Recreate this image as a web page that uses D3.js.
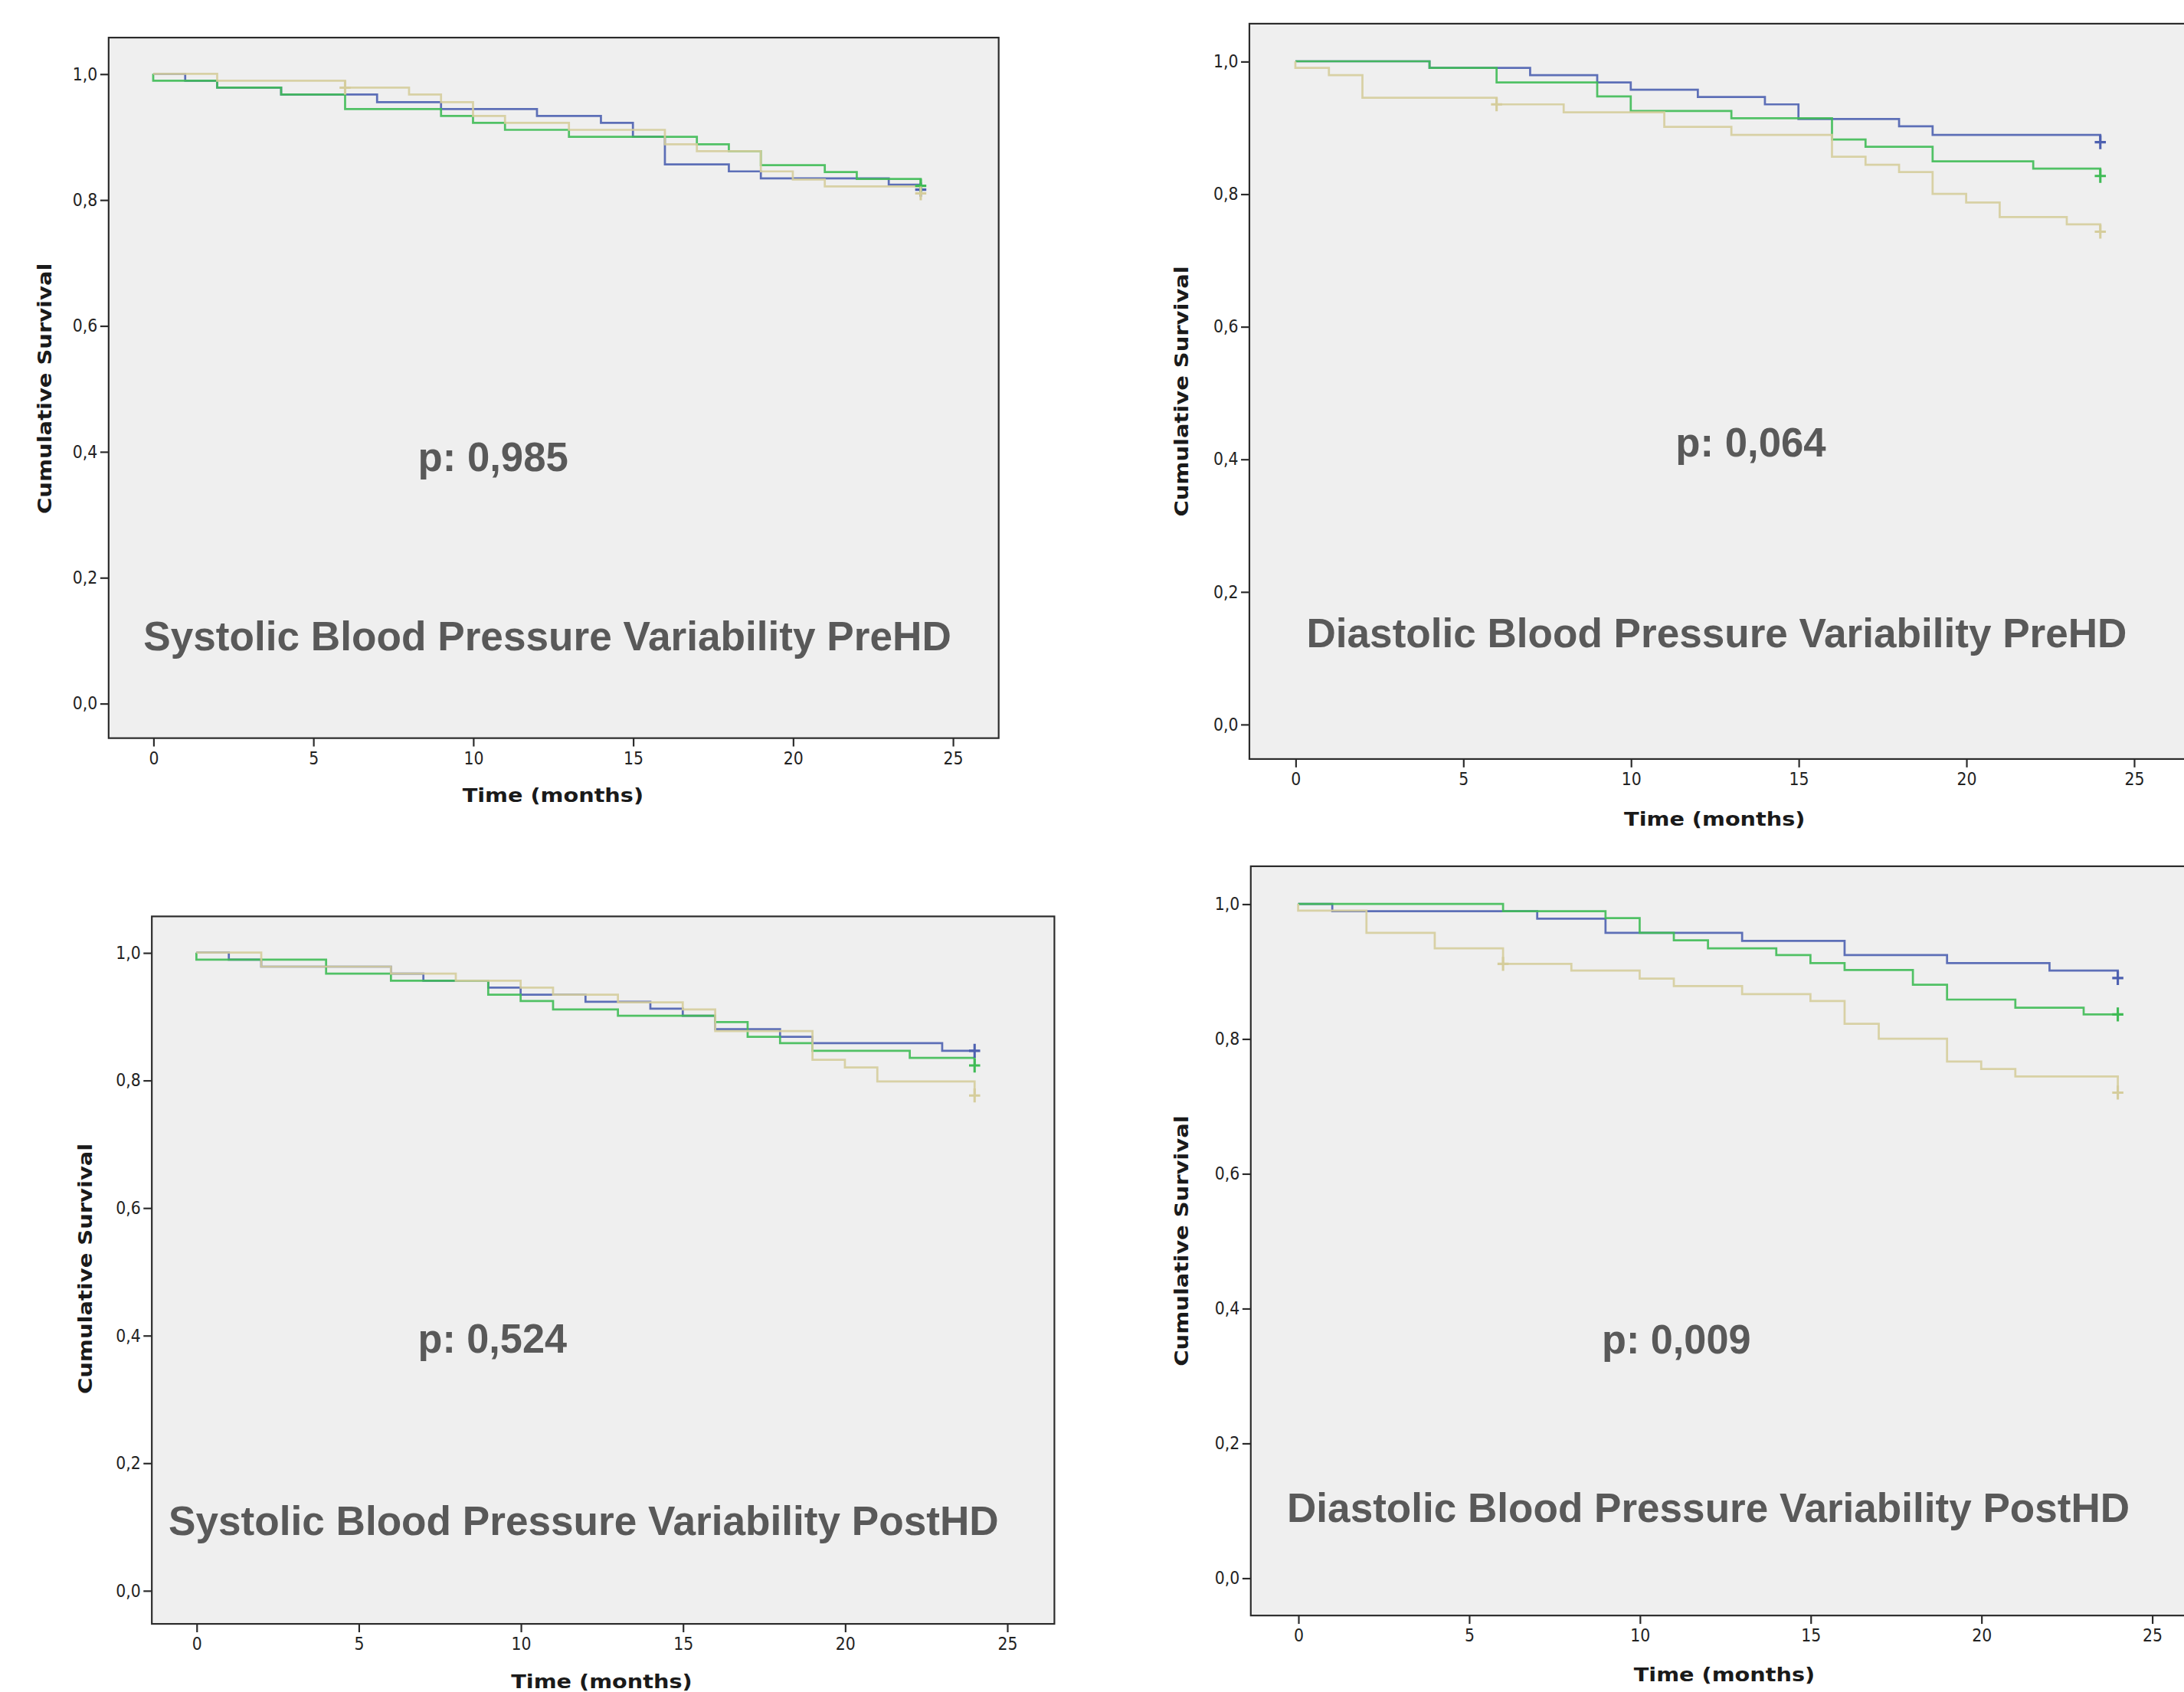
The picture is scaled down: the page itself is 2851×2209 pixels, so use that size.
<!DOCTYPE html>
<html>
<head>
<meta charset="utf-8">
<script src="https://cdn.jsdelivr.net/npm/d3@7"></script>
<style>
  html, body { margin: 0; padding: 0; background: #ffffff; }
  svg { display: block; }
</style>
</head>
<body>
<script>
// ---------------- DATA ----------------
const xTicks = [0, 5, 10, 15, 20, 25];
const yTicks = [0.0, 0.2, 0.4, 0.6, 0.8, 1.0];
const panelTitles = [
  "Systolic Blood Pressure Variability PreHD",
  "Diastolic Blood Pressure Variability PreHD",
  "Systolic Blood Pressure Variability PostHD",
  "Diastolic Blood Pressure Variability PostHD"
];
const pValues = ["p: 0,985", "p: 0,064", "p: 0,524", "p: 0,009"];
const xLabel = "Time (months)";
const yLabel = "Cumulative Survival";

// Kaplan-Meier steps: [month, cumulative survival after the step]
// Panel 1: Systolic PreHD
const sbpPreBlue  = [[0,1],[1,0.989],[2,0.978],[4,0.967],[7,0.955],[9,0.944],[12,0.933],[14,0.922],[15,0.900],[16,0.856],[18,0.845],[19,0.834],[23,0.824],[24,0.816]];
const sbpPreGreen = [[0,1],[0,0.989],[2,0.978],[4,0.967],[6,0.944],[9,0.933],[10,0.922],[11,0.911],[13,0.900],[17,0.888],[18,0.877],[19,0.855],[21,0.844],[22,0.833],[24,0.822]];
const sbpPreTan   = [[0,1],[2,0.989],[6,0.978],[8,0.967],[9,0.955],[10,0.933],[11,0.922],[13,0.911],[16,0.888],[17,0.877],[19,0.845],[20,0.832],[21,0.821],[24,0.810]];
const sbpPreCensor = [[0,24],[1,24],[2,6],[2,24]];

// Panel 2: Diastolic PreHD
const dbpPreBlue  = [[0,1],[4,0.990],[7,0.979],[9,0.968],[10,0.957],[12,0.946],[14,0.935],[15,0.913],[18,0.902],[19,0.889],[24,0.878]];
const dbpPreGreen = [[0,1],[4,0.990],[6,0.968],[9,0.947],[10,0.925],[13,0.914],[16,0.882],[17,0.871],[19,0.849],[22,0.838],[24,0.827]];
const dbpPreTan   = [[0,1],[0,0.990],[1,0.979],[2,0.945],[6,0.935],[8,0.923],[11,0.901],[13,0.889],[16,0.856],[17,0.844],[18,0.833],[19,0.800],[20,0.787],[21,0.765],[23,0.754],[24,0.743]];
const dbpPreCensor = [[0,24],[1,24],[2,6],[2,24]];

// Panel 3: Systolic PostHD
const sbpPostBlue  = [[0,1],[1,0.989],[2,0.978],[6,0.967],[7,0.956],[9,0.945],[10,0.934],[12,0.923],[14,0.912],[15,0.901],[16,0.880],[18,0.868],[19,0.858],[23,0.846],[24,0.846]];
const sbpPostGreen = [[0,1],[0,0.989],[4,0.967],[6,0.956],[9,0.934],[10,0.924],[11,0.911],[13,0.901],[16,0.891],[17,0.868],[18,0.858],[19,0.846],[22,0.835],[24,0.823]];
const sbpPostTan   = [[0,1],[2,0.978],[6,0.967],[8,0.956],[10,0.945],[11,0.934],[13,0.922],[15,0.911],[16,0.877],[19,0.832],[20,0.820],[21,0.798],[24,0.776]];
const sbpPostCensor = [[0,24],[1,24],[2,24]];

// Panel 4: Diastolic PostHD
const dbpPostBlue  = [[0,1],[1,0.989],[7,0.978],[9,0.957],[13,0.945],[16,0.924],[19,0.912],[22,0.901],[24,0.890]];
const dbpPostGreen = [[0,1],[6,0.989],[9,0.979],[10,0.957],[11,0.946],[12,0.934],[14,0.924],[15,0.912],[16,0.902],[18,0.880],[19,0.858],[21,0.846],[23,0.836],[24,0.836]];
const dbpPostTan   = [[0,1],[0,0.990],[2,0.957],[4,0.934],[6,0.911],[8,0.901],[10,0.889],[11,0.878],[13,0.866],[15,0.856],[16,0.822],[17,0.800],[19,0.766],[20,0.755],[21,0.744],[24,0.720]];
const dbpPostCensor = [[0,24],[1,24],[2,6],[2,24]];

// ---------------- LAYOUT / STYLE ----------------
const groupColors = ["#4d60b0", "#3fbb55", "#d5cd9c"];
const layout = [
  { series: [sbpPreBlue, sbpPreGreen, sbpPreTan], censor: sbpPreCensor,
    box: [78, 27, 717, 530], xr: [110, 684], yr: [505, 53],
    title: [103, 467, 580], p: [300, 338, 108], ylab: [32, 279], xlab: [397, 576] },
  { series: [dbpPreBlue, dbpPreGreen, dbpPreTan], censor: dbpPreCensor,
    box: [897, 17, 1580, 545], xr: [930, 1532], yr: [520, 44],
    title: [938, 465, 589], p: [1203, 328, 108], ylab: [848, 281], xlab: [1231, 593] },
  { series: [sbpPostBlue, sbpPostGreen, sbpPostTan], censor: sbpPostCensor,
    box: [109, 658, 757, 1166], xr: [141, 723], yr: [1142, 684],
    title: [121, 1102, 596], p: [300, 971, 107], ylab: [61, 911], xlab: [432, 1212] },
  { series: [dbpPostBlue, dbpPostGreen, dbpPostTan], censor: dbpPostCensor,
    box: [898, 622, 1580, 1160], xr: [932, 1545], yr: [1133, 649],
    title: [924, 1093, 605], p: [1150, 972, 107], ylab: [848, 891], xlab: [1238, 1207] }
];

const W = 2851, H = 2209, VW = 1568, VH = H * VW / W;
const svg = d3.select("body").append("svg")
  .attr("width", W).attr("height", H)
  .attr("viewBox", `0 0 ${VW} ${VH}`);

const bigFont = "'Liberation Sans Narrow', 'Arial Narrow', 'Liberation Sans', Arial, sans-serif";
const labFont = "'DejaVu Sans', Verdana, sans-serif";
const tickFont = "'DejaVu Sans Condensed', 'DejaVu Sans', sans-serif";

function survAt(series, t) {
  let s = series[0][1];
  for (const [tt, ss] of series) if (tt <= t) s = ss;
  return s;
}

layout.forEach((L, i) => {
  const g = svg.append("g");
  const [bl, bt, br, bb] = L.box;
  const x = d3.scaleLinear().domain([0, 25]).range(L.xr);
  const y = d3.scaleLinear().domain([0, 1]).range(L.yr);

  g.append("rect")
    .attr("x", bl).attr("y", bt).attr("width", br - bl).attr("height", bb - bt)
    .attr("fill", "#efefef").attr("stroke", "#2b2b2b").attr("stroke-width", 1.2);

  // axes
  const fmt = d => d3.format(".1f")(d).replace(".", ",");
  const ya = g.append("g").attr("transform", `translate(${bl},0)`)
    .call(d3.axisLeft(y).tickValues(yTicks).tickSize(6).tickPadding(2).tickFormat(fmt));
  const xa = g.append("g").attr("transform", `translate(0,${bb})`)
    .call(d3.axisBottom(x).tickValues(xTicks).tickSize(6).tickPadding(4).tickFormat(d3.format("d")));
  [ya, xa].forEach(a => {
    a.select(".domain").remove();
    a.selectAll(".tick line").attr("stroke", "#2b2b2b").attr("stroke-width", 1.2);
    a.selectAll(".tick text").attr("fill", "#222222")
      .style("font-family", tickFont).style("font-size", "12.5px");
  });

  // curves
  const line = d3.line().x(d => x(d[0])).y(d => y(d[1])).curve(d3.curveStepAfter);
  L.series.forEach((s, k) => {
    g.append("path").datum(s).attr("d", line)
      .attr("fill", "none").attr("stroke", groupColors[k])
      .attr("stroke-width", 1.5).attr("stroke-opacity", 0.9);
  });

  // censor marks
  L.censor.forEach(([k, t]) => {
    const cx = x(t), cy = y(survAt(L.series[k], t));
    g.append("path")
      .attr("d", `M${cx - 4},${cy}h8M${cx},${cy - 5}v10`)
      .attr("fill", "none").attr("stroke", groupColors[k]).attr("stroke-width", 1.7);
  });

  // p value and title
  g.append("text").text(pValues[i])
    .attr("x", L.p[0]).attr("y", L.p[1])
    .attr("textLength", L.p[2]).attr("lengthAdjust", "spacingAndGlyphs")
    .style("font-family", bigFont).style("font-weight", "bold").style("font-size", "30px")
    .attr("fill", "#595959");
  g.append("text").text(panelTitles[i])
    .attr("x", L.title[0]).attr("y", L.title[1])
    .attr("textLength", L.title[2]).attr("lengthAdjust", "spacingAndGlyphs")
    .style("font-family", bigFont).style("font-weight", "bold").style("font-size", "29.5px")
    .attr("fill", "#595959");

  // axis titles
  g.append("text").text(xLabel)
    .attr("x", L.xlab[0]).attr("y", L.xlab[1]).attr("text-anchor", "middle")
    .attr("textLength", 130).attr("lengthAdjust", "spacingAndGlyphs")
    .style("font-family", labFont).style("font-weight", "bold").style("font-size", "14px")
    .attr("fill", "#1a1a1a");
  g.append("text").text(yLabel)
    .attr("transform", `translate(${L.ylab[0] + 5},${L.ylab[1]}) rotate(-90)`)
    .attr("text-anchor", "middle")
    .attr("textLength", 180).attr("lengthAdjust", "spacingAndGlyphs")
    .style("font-family", labFont).style("font-weight", "bold").style("font-size", "14px")
    .attr("fill", "#1a1a1a");
});
</script>
</body>
</html>
